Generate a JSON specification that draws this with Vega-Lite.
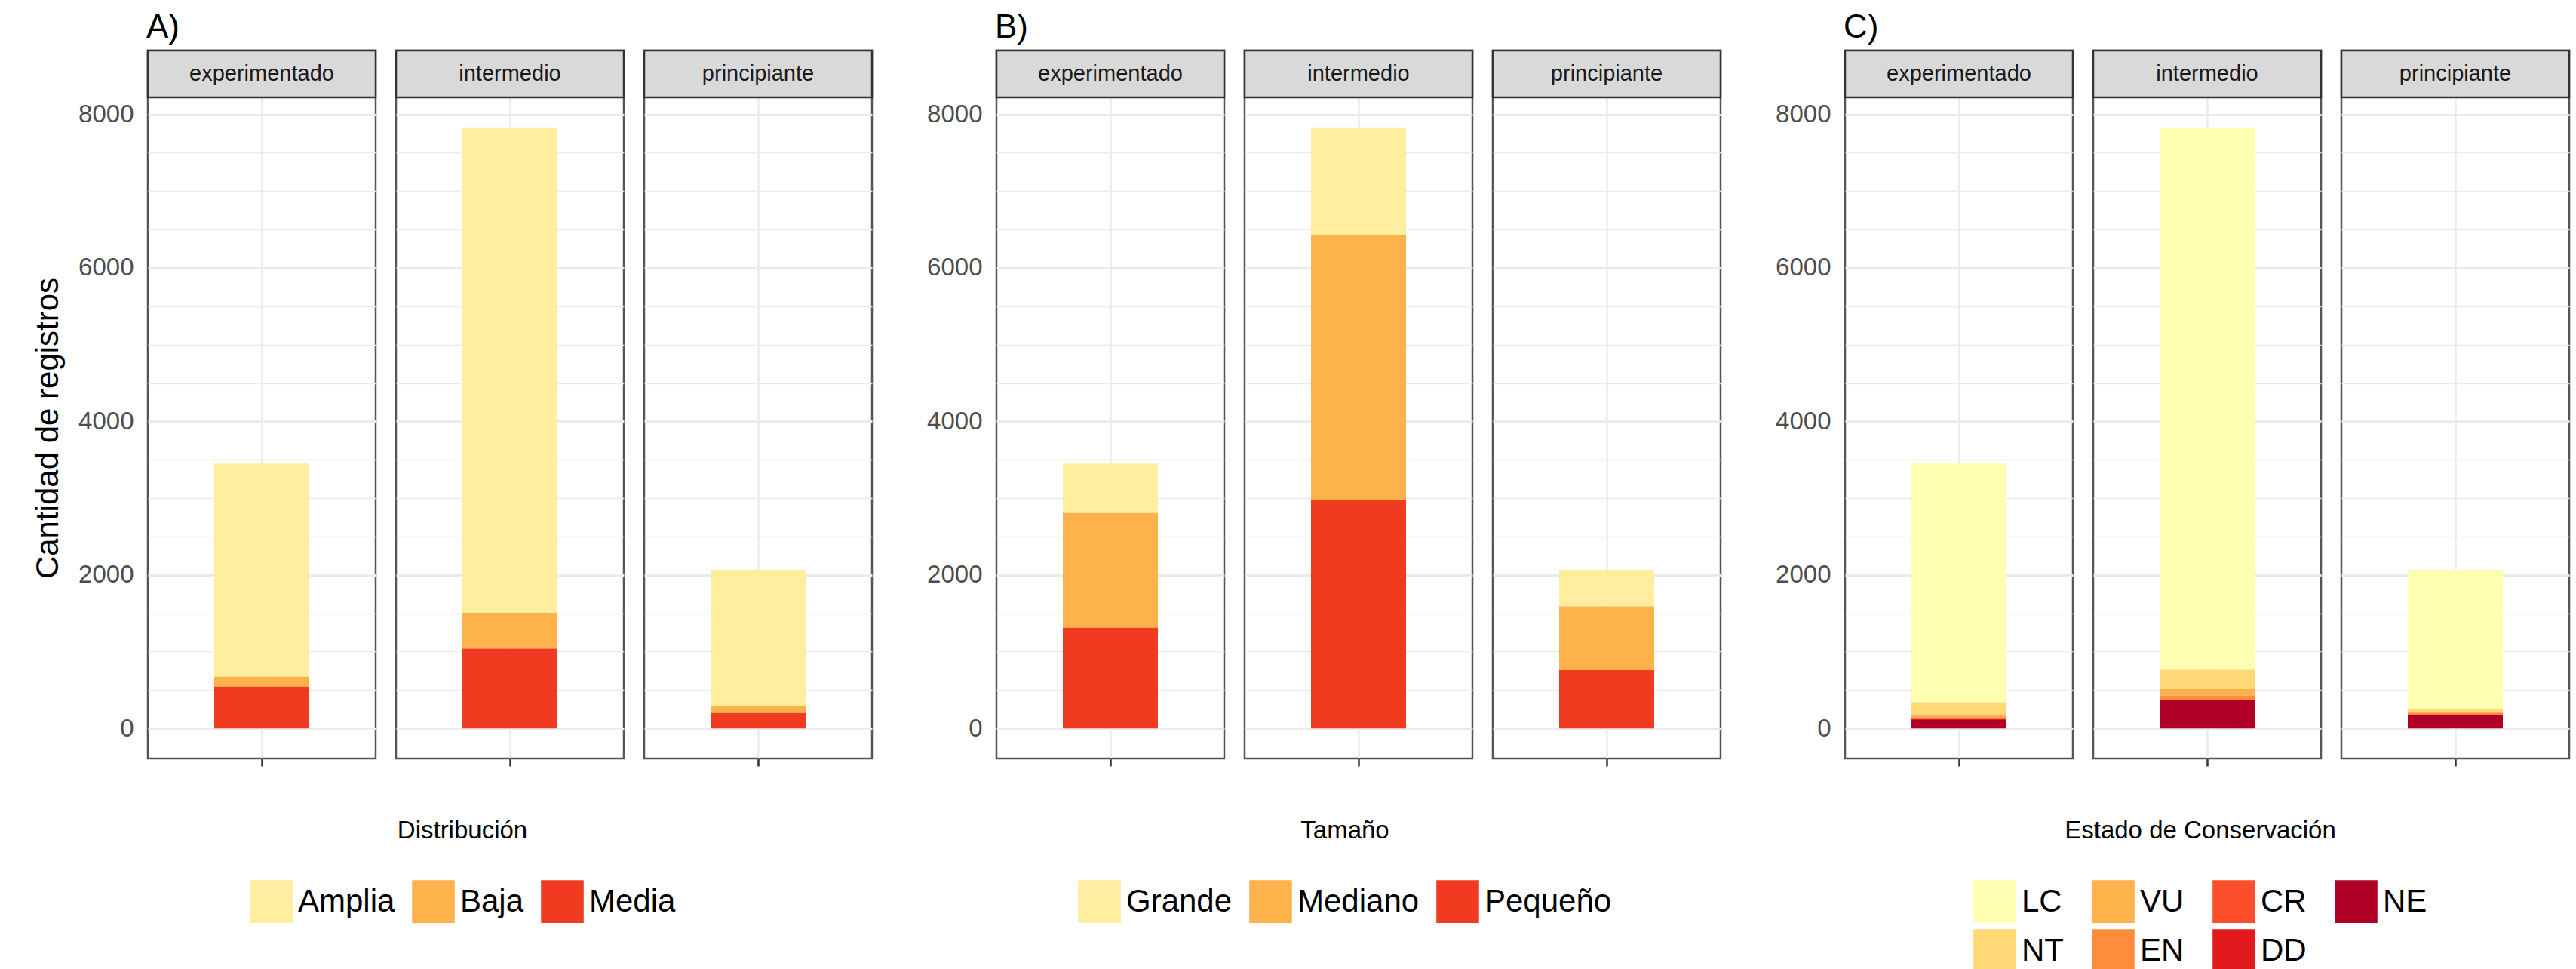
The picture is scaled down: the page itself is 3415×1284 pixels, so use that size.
{
  "$schema": "https://vega.github.io/schema/vega-lite/v6.json",
  "background": "white",
  "padding": {"left": 42, "top": 15, "right": 10, "bottom": 0},
  "datasets": {
    "A": [
      {"nivel": "experimentado", "cat": "Amplia", "n": 2777},
      {"nivel": "experimentado", "cat": "Baja", "n": 128},
      {"nivel": "experimentado", "cat": "Media", "n": 545},
      {"nivel": "intermedio", "cat": "Amplia", "n": 6325},
      {"nivel": "intermedio", "cat": "Baja", "n": 465},
      {"nivel": "intermedio", "cat": "Media", "n": 1040},
      {"nivel": "principiante", "cat": "Amplia", "n": 1773},
      {"nivel": "principiante", "cat": "Baja", "n": 97},
      {"nivel": "principiante", "cat": "Media", "n": 200}
    ],
    "B": [
      {"nivel": "experimentado", "cat": "Grande", "n": 643},
      {"nivel": "experimentado", "cat": "Mediano", "n": 1494},
      {"nivel": "experimentado", "cat": "Pequeño", "n": 1313},
      {"nivel": "intermedio", "cat": "Grande", "n": 1400},
      {"nivel": "intermedio", "cat": "Mediano", "n": 3450},
      {"nivel": "intermedio", "cat": "Pequeño", "n": 2980},
      {"nivel": "principiante", "cat": "Grande", "n": 480},
      {"nivel": "principiante", "cat": "Mediano", "n": 832},
      {"nivel": "principiante", "cat": "Pequeño", "n": 758}
    ],
    "C": [
      {"nivel": "experimentado", "cat": "LC", "n": 3109},
      {"nivel": "experimentado", "cat": "NT", "n": 157},
      {"nivel": "experimentado", "cat": "VU", "n": 36},
      {"nivel": "experimentado", "cat": "EN", "n": 20},
      {"nivel": "experimentado", "cat": "CR", "n": 9},
      {"nivel": "experimentado", "cat": "DD", "n": 8},
      {"nivel": "experimentado", "cat": "NE", "n": 111},
      {"nivel": "intermedio", "cat": "LC", "n": 7067},
      {"nivel": "intermedio", "cat": "NT", "n": 250},
      {"nivel": "intermedio", "cat": "VU", "n": 83},
      {"nivel": "intermedio", "cat": "EN", "n": 55},
      {"nivel": "intermedio", "cat": "CR", "n": 6},
      {"nivel": "intermedio", "cat": "DD", "n": 4},
      {"nivel": "intermedio", "cat": "NE", "n": 365},
      {"nivel": "principiante", "cat": "LC", "n": 1820},
      {"nivel": "principiante", "cat": "NT", "n": 32},
      {"nivel": "principiante", "cat": "VU", "n": 20},
      {"nivel": "principiante", "cat": "EN", "n": 15},
      {"nivel": "principiante", "cat": "CR", "n": 3},
      {"nivel": "principiante", "cat": "DD", "n": 3},
      {"nivel": "principiante", "cat": "NE", "n": 177}
    ]
  },
  "config": {
    "font": "Liberation Sans",
    "view": {"stroke": "#555555", "strokeWidth": 2.5},
    "axis": {
      "labelFontSize": 33,
      "labelColor": "#4D4D4D",
      "tickColor": "#333333",
      "tickWidth": 2.5,
      "tickSize": 10,
      "gridColor": "#EBEBEB",
      "domain": false,
      "titleFontSize": 42,
      "titleFontWeight": "normal",
      "titleColor": "#000000",
      "labelPadding": 6
    },
    "axisY": {
      "values": [0, 1000, 2000, 3000, 4000, 5000, 6000, 7000, 8000],
      "format": "d",
      "labelExpr": "datum.value % 2000 === 0 ? datum.label : ''",
      "tickOpacity": {"condition": {"test": "datum.value % 2000 === 0", "value": 1}, "value": 0},
      "gridWidth": {"condition": {"test": "datum.value % 2000 === 0", "value": 3}, "value": 1.5},
      "grid": true,
      "titlePadding": 18,
      "titleY": 500
    },
    "legend": {
      "orient": "none",
      "direction": "horizontal",
      "titleOrient": "top",
      "titleAnchor": "middle",
      "titleFontSize": 33,
      "titleFontWeight": "normal",
      "titleColor": "#000000",
      "titlePadding": 48,
      "titleLimit": 2000,
      "labelFontSize": 42,
      "labelColor": "#000000",
      "labelOffset": 7,
      "labelLimit": 400,
      "symbolType": "square",
      "symbolSize": 3200,
      "symbolStrokeWidth": 0,
      "symbolOpacity": 1,
      "columnPadding": 22,
      "rowPadding": 8,
      "padding": 0,
      "legendY": 1018
    }
  },
  "spacing": 69,
  "resolve": {"scale": {"color": "independent"}, "legend": {"color": "independent"}},
  "hconcat": [
    {
      "data": {"name": "A"},
      "facet": {"column": {"field": "nivel", "type": "nominal", "title": "A)", "header": {"labels": false, "titleFontSize": 44, "titleAnchor": "start", "titleFontWeight": "normal", "titleColor": "#000000", "titlePadding": -40, "titleBaseline": "alphabetic"}}},
      "spacing": 21,
      "spec": {
        "width": 302,
        "height": 938,
        "layer": [
          {
            "transform": [{"aggregate": [{"op": "count", "as": "c"}], "groupby": ["nivel"]}],
            "mark": {"type": "rect", "fill": "#D9D9D9", "stroke": "#333333", "strokeWidth": 2.5},
            "encoding": {
              "y": {"datum": 8221.5, "type": "quantitative", "scale": {"domain": [-391.5, 8831.1], "nice": false, "zero": false}, "title": "Cantidad de registros"},
              "y2": {"datum": 8831.1}
            }
          },
          {
            "transform": [{"aggregate": [{"op": "count", "as": "c"}], "groupby": ["nivel"]}],
            "mark": {"type": "text", "fontSize": 29, "color": "#1A1A1A"},
            "encoding": {
              "y": {"datum": 8526, "type": "quantitative", "scale": {"domain": [-391.5, 8831.1], "nice": false, "zero": false}, "title": "Cantidad de registros"},
              "text": {"field": "nivel", "type": "nominal"}
            }
          },
          {
            "mark": {"type": "bar"},
            "encoding": {
              "x": {"field": "nivel", "type": "nominal", "scale": {"paddingInner": 0, "paddingOuter": 0.6985}, "axis": {"labels": false, "title": null, "grid": true, "gridWidth": 2.5, "domain": false}},
              "y": {"field": "n", "type": "quantitative", "stack": "zero", "scale": {"domain": [-391.5, 8831.1], "nice": false, "zero": false}, "title": "Cantidad de registros"},
              "color": {"field": "cat", "type": "nominal", "title": "Distribución", "scale": {"domain": ["Amplia", "Baja", "Media"], "range": ["#FFEDA0", "#FEB24C", "#F03B20"]}, "legend": {"legendX": 135}},
              "order": {"field": "cat", "sort": "descending"}
            }
          }
        ]
      },
      "resolve": {"scale": {"x": "independent"}}
    },
    {
      "data": {"name": "B"},
      "facet": {"column": {"field": "nivel", "type": "nominal", "title": "B)", "header": {"labels": false, "titleFontSize": 44, "titleAnchor": "start", "titleFontWeight": "normal", "titleColor": "#000000", "titlePadding": -40, "titleBaseline": "alphabetic"}}},
      "spacing": 21,
      "spec": {
        "width": 302,
        "height": 938,
        "layer": [
          {
            "transform": [{"aggregate": [{"op": "count", "as": "c"}], "groupby": ["nivel"]}],
            "mark": {"type": "rect", "fill": "#D9D9D9", "stroke": "#333333", "strokeWidth": 2.5},
            "encoding": {
              "y": {"datum": 8221.5, "type": "quantitative", "scale": {"domain": [-391.5, 8831.1], "nice": false, "zero": false}, "title": null},
              "y2": {"datum": 8831.1}
            }
          },
          {
            "transform": [{"aggregate": [{"op": "count", "as": "c"}], "groupby": ["nivel"]}],
            "mark": {"type": "text", "fontSize": 29, "color": "#1A1A1A"},
            "encoding": {
              "y": {"datum": 8526, "type": "quantitative", "scale": {"domain": [-391.5, 8831.1], "nice": false, "zero": false}, "title": null},
              "text": {"field": "nivel", "type": "nominal"}
            }
          },
          {
            "mark": {"type": "bar"},
            "encoding": {
              "x": {"field": "nivel", "type": "nominal", "scale": {"paddingInner": 0, "paddingOuter": 0.6985}, "axis": {"labels": false, "title": null, "grid": true, "gridWidth": 2.5, "domain": false}},
              "y": {"field": "n", "type": "quantitative", "stack": "zero", "scale": {"domain": [-391.5, 8831.1], "nice": false, "zero": false}, "title": null},
              "color": {"field": "cat", "type": "nominal", "title": "Tamaño", "scale": {"domain": ["Grande", "Mediano", "Pequeño"], "range": ["#FFEDA0", "#FEB24C", "#F03B20"]}, "legend": {"legendX": 108}},
              "order": {"field": "cat", "sort": "descending"}
            }
          }
        ]
      },
      "resolve": {"scale": {"x": "independent"}}
    },
    {
      "data": {"name": "C"},
      "facet": {"column": {"field": "nivel", "type": "nominal", "title": "C)", "header": {"labels": false, "titleFontSize": 44, "titleAnchor": "start", "titleFontWeight": "normal", "titleColor": "#000000", "titlePadding": -40, "titleBaseline": "alphabetic"}}},
      "spacing": 21,
      "spec": {
        "width": 302,
        "height": 938,
        "layer": [
          {
            "transform": [{"aggregate": [{"op": "count", "as": "c"}], "groupby": ["nivel"]}],
            "mark": {"type": "rect", "fill": "#D9D9D9", "stroke": "#333333", "strokeWidth": 2.5},
            "encoding": {
              "y": {"datum": 8221.5, "type": "quantitative", "scale": {"domain": [-391.5, 8831.1], "nice": false, "zero": false}, "title": null},
              "y2": {"datum": 8831.1}
            }
          },
          {
            "transform": [{"aggregate": [{"op": "count", "as": "c"}], "groupby": ["nivel"]}],
            "mark": {"type": "text", "fontSize": 29, "color": "#1A1A1A"},
            "encoding": {
              "y": {"datum": 8526, "type": "quantitative", "scale": {"domain": [-391.5, 8831.1], "nice": false, "zero": false}, "title": null},
              "text": {"field": "nivel", "type": "nominal"}
            }
          },
          {
            "transform": [{"calculate": "indexof(['LC','NT','VU','EN','CR','DD','NE'], datum.cat)", "as": "k"}],
            "mark": {"type": "bar"},
            "encoding": {
              "x": {"field": "nivel", "type": "nominal", "scale": {"paddingInner": 0, "paddingOuter": 0.6985}, "axis": {"labels": false, "title": null, "grid": true, "gridWidth": 2.5, "domain": false}},
              "y": {"field": "n", "type": "quantitative", "stack": "zero", "scale": {"domain": [-391.5, 8831.1], "nice": false, "zero": false}, "title": null},
              "color": {"field": "cat", "type": "nominal", "title": "Estado de Conservación", "scale": {"domain": ["LC", "VU", "CR", "NE", "NT", "EN", "DD"], "range": ["#FFFFB2", "#FEB24C", "#FC4E2A", "#B10026", "#FED976", "#FD8D3C", "#E31A1C"]}, "legend": {"columns": 4, "legendX": 170, "columnPadding": 37}},
              "order": {"field": "k", "sort": "descending"}
            }
          }
        ]
      },
      "resolve": {"scale": {"x": "independent"}}
    }
  ]
}
